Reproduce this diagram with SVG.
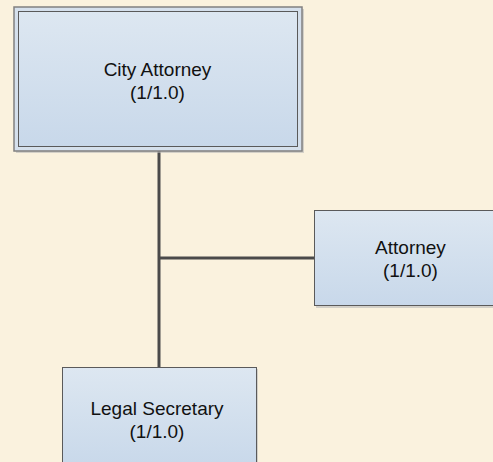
<svg xmlns="http://www.w3.org/2000/svg" width="493" height="462" viewBox="0 0 493 462">
  <defs>
    <linearGradient id="boxFill" x1="0" y1="0" x2="0" y2="1">
      <stop offset="0" stop-color="#dde7f1"/>
      <stop offset="1" stop-color="#c8d8ea"/>
    </linearGradient>
    <style>
      .box { fill: url(#boxFill); stroke: #5a5a5a; stroke-width: 1; }
      .shadow { fill: #b9b9b9; opacity: 0.6; }
      .label { font-family: "Liberation Sans", Arial, sans-serif; font-size: 19px; fill: #111; text-anchor: middle; }
      .link { stroke: #4a4a4a; stroke-width: 3; fill: none; }
    </style>
  </defs>
  <rect width="493" height="462" fill="#faf2de"/>

  <g id="connectors">
    <path class="link" d="M159 151 V367"/>
    <path class="link" d="M159 258 H314"/>
  </g>

  <g id="city-attorney">
    <rect class="shadow" x="16" y="9" width="288" height="144"/>
    <rect x="14" y="7" width="288" height="144" fill="#d5e0ec" stroke="#808080" stroke-width="1.5"/>
    <rect class="box" x="18.5" y="11.5" width="279" height="135"/>
    <text class="label" x="157.5" y="76">City Attorney</text>
    <text class="label" x="157.5" y="98.5">(1/1.0)</text>
  </g>

  <g id="attorney">
    <rect class="shadow" x="316" y="212" width="192" height="96"/>
    <rect class="box" x="314.5" y="210.5" width="192" height="95"/>
    <text class="label" x="410.5" y="254">Attorney</text>
    <text class="label" x="410.5" y="276.5">(1/1.0)</text>
  </g>

  <g id="legal-secretary">
    <rect class="shadow" x="64" y="369" width="194" height="100"/>
    <rect class="box" x="62.5" y="367.5" width="194" height="100"/>
    <text class="label" x="157" y="415">Legal Secretary</text>
    <text class="label" x="157" y="437.5">(1/1.0)</text>
  </g>
</svg>
